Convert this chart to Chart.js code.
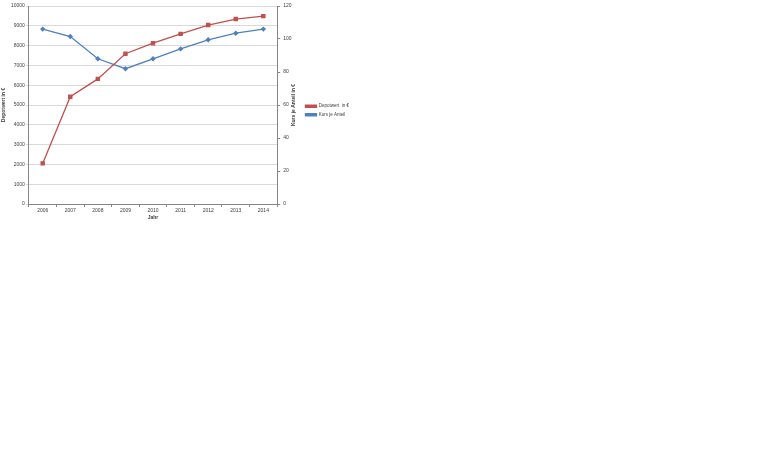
<!DOCTYPE html>
<html><head><meta charset="utf-8">
<script src="https://cdn.jsdelivr.net/npm/chart.js@4/dist/chart.umd.min.js"></script>
<style>
html,body{margin:0;padding:0;background:#fff;width:770px;height:458px;overflow:hidden}
#wrap{position:absolute;left:0;top:0;width:359px;height:223px}
</style></head>
<body>
<div id="wrap"><canvas id="c"></canvas></div>
<script>
const years = ['2006','2007','2008','2009','2010','2011','2012','2013','2014'];
const depotwert = [2050, 5420, 6320, 7590, 8120, 8590, 9040, 9340, 9490];
const kurs = [106, 101.5, 88, 82, 88, 94, 99.5, 103.5, 106];
const seriesNames = ['Depotwert  in €', 'Kurs je Anteil'];
const axisTitles = {x: 'Jahr', y: 'Depotwert in €', y1: 'Kurs je Anteil in €'};

const font = {family: 'Liberation Sans', size: 5};
const boldFont = {family: 'Liberation Sans', size: 5, weight: 'bold'};
Chart.defaults.font = font;
Chart.defaults.color = '#404040';

// draw right axis title rotated bottom-to-top (like the left one)
const rightTitle = {
  id: 'rightTitle',
  afterDraw(chart) {
    const s = chart.scales.y1, ctx = chart.ctx;
    ctx.save();
    ctx.font = 'bold 5px "Liberation Sans"';
    ctx.fillStyle = '#404040';
    ctx.textAlign = 'center';
    ctx.textBaseline = 'middle';
    ctx.translate(s.left + 16, (chart.chartArea.top + chart.chartArea.bottom) / 2);
    ctx.rotate(-Math.PI / 2);
    ctx.fillText(axisTitles.y1, 0, 0);
    ctx.restore();
  }
};

new Chart(document.getElementById('c'), {
  type: 'line',
  data: {
    labels: years,
    datasets: [
      {label: seriesNames[0], data: depotwert, yAxisID: 'y', borderColor: '#C0504D', backgroundColor: '#C0504D',
       borderWidth: 1.3, pointStyle: 'rect', pointRadius: 2.2, tension: 0},
      {label: seriesNames[1], data: kurs, yAxisID: 'y1', borderColor: '#4F81BD', backgroundColor: '#4F81BD',
       borderWidth: 1.3, pointStyle: 'rectRot', pointRadius: 1.8, tension: 0}
    ]
  },
  options: {
    responsive: true, maintainAspectRatio: false, animation: false,
    layout: {padding: {left: 0, right: 0, top: 0, bottom: 2}},
    plugins: {
      legend: {position: 'right', align: 'center',
        labels: {font: {family: 'Liberation Sans', size: 4.5}, boxWidth: 11, boxHeight: 2, padding: 4, color: '#404040'}},
      tooltip: {enabled: false}
    },
    scales: {
      x: {offset: true,
        grid: {display: true, offset: true, drawOnChartArea: false, tickLength: 3, color: '#868686'},
        border: {color: '#868686'},
        ticks: {font: font, maxRotation: 0, padding: 1},
        title: {display: true, text: axisTitles.x, font: boldFont, padding: {top: 0, bottom: 0}}
      },
      y: {position: 'left', min: 0, max: 10000,
        ticks: {stepSize: 1000, font: font, padding: 1, callback: v => String(v)},
        grid: {color: '#D9D9D9', tickLength: 3},
        border: {color: '#868686'},
        title: {display: true, text: axisTitles.y, font: boldFont, padding: {top: 1, bottom: 3}}
      },
      y1: {position: 'right', min: 0, max: 120,
        ticks: {stepSize: 20, font: font, padding: 3, callback: v => String(v)},
        grid: {drawOnChartArea: false, tickLength: 3, color: '#868686'},
        border: {color: '#868686'},
        title: {display: true, text: axisTitles.y1, font: boldFont, color: 'rgba(0,0,0,0)', padding: {top: 0, bottom: 1}}
      }
    }
  },
  plugins: [rightTitle]
});
</script>
</body></html>
